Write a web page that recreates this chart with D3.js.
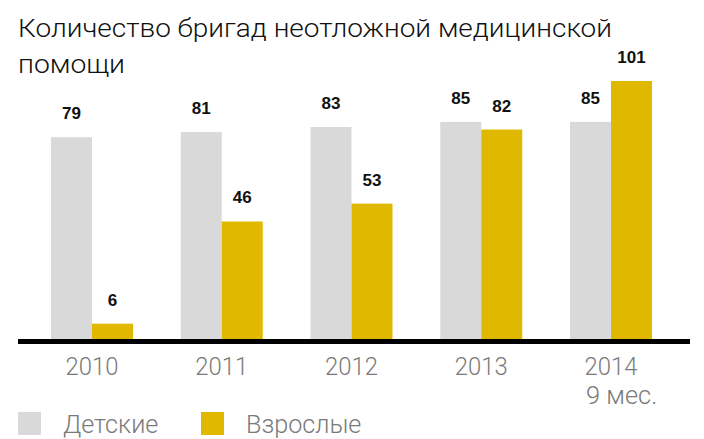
<!DOCTYPE html>
<html><head><meta charset="utf-8">
<script src="https://cdn.jsdelivr.net/npm/d3@7"></script>
<style>body{margin:0;background:#fff}svg{display:block}</style>
</head><body>
<script>
const categories = ["2010","2011","2012","2013","2014"];
const subLabels = ["","","","","9 мес."];
const seriesNames = ["Детские","Взрослые"];
const children = [79,81,83,85,85];
const adults = [6,46,53,82,101];
const colors = ["#d9d9d9","#e1b800"];

const W=704,H=439;
const FONT="Roboto, sans-serif";
const svg=d3.select("body").append("svg").attr("width",W).attr("height",H);
const y0=339;
const step=129.75, bw=82;
const pin=(step-bw)/step;
const x=d3.scaleBand().domain(categories).range([51,51+step*(categories.length-pin)]).paddingInner(pin).paddingOuter(0);
const xs=d3.scaleBand().domain([0,1]).range([0,x.bandwidth()]);
const y=d3.scaleLinear().domain([0,101]).range([y0,81]);

function condense(sel,f){sel.each(function(){const L=this.getComputedTextLength();d3.select(this).attr("textLength",L*f).attr("lengthAdjust","spacingAndGlyphs");});}

svg.append("text").attr("x",18).attr("y",37).attr("font-family",FONT).attr("font-weight",300).attr("font-size",26.5).attr("fill","#111")
  .text("Количество бригад неотложной медицинской").attr("textLength",594).attr("lengthAdjust","spacingAndGlyphs");
svg.append("text").attr("x",18).attr("y",73).attr("font-family",FONT).attr("font-weight",300).attr("font-size",26.5).attr("fill","#111")
  .text("помощи").attr("textLength",107).attr("lengthAdjust","spacingAndGlyphs");

const data=categories.map((c,i)=>({c,vals:[children[i],adults[i]]}));
const g=svg.selectAll("g.grp").data(data).join("g").attr("transform",d=>`translate(${x(d.c)},0)`);
g.selectAll("rect").data(d=>d.vals.map((v,k)=>({v,k}))).join("rect")
  .attr("x",d=>xs(d.k)).attr("width",xs.bandwidth()).attr("y",d=>y(d.v)).attr("height",d=>y0-y(d.v)).attr("fill",d=>colors[d.k]);
g.selectAll("text.val").data(d=>d.vals.map((v,k)=>({v,k}))).join("text").attr("class","val")
  .attr("x",d=>xs(d.k)+xs.bandwidth()/2).attr("y",d=>y(d.v)-18).attr("text-anchor","middle")
  .attr("font-family","'Liberation Sans', Arial, sans-serif").attr("font-weight","bold").attr("font-size",17).attr("fill","#111").text(d=>d.v);

svg.append("rect").attr("x",18).attr("y",y0).attr("width",672).attr("height",5).attr("fill","#000");

const xAxis=d3.axisBottom(x).tickSize(0).tickPadding(0);
const ax=svg.append("g").attr("transform",`translate(0,375)`).call(xAxis);
ax.select(".domain").remove();
ax.selectAll("text").attr("font-family",FONT).attr("font-weight",300).attr("font-size",26.5).attr("fill","#7a7a7a").attr("dy",0).call(condense,0.9);
svg.selectAll("text.sub").data(categories.filter((c,i)=>subLabels[i])).join("text").attr("class","sub")
  .attr("x",c=>x(c)+x.bandwidth()/2-25).attr("y",404).attr("text-anchor","start")
  .attr("font-family",FONT).attr("font-weight",300).attr("font-size",26.5).attr("fill","#7a7a7a")
  .text(c=>subLabels[categories.indexOf(c)]).call(condense,0.96);

const lg=svg.selectAll("g.lg").data(seriesNames).join("g").attr("transform",(d,i)=>`translate(${[18,201][i]},412)`);
lg.append("rect").attr("width",23).attr("height",23).attr("fill",(d,i)=>colors[i]);
lg.append("text").attr("x",45).attr("y",21).attr("font-family",FONT).attr("font-weight",300).attr("font-size",26.5).attr("fill","#7a7a7a").text(d=>d).call(condense,0.95);
</script>
</body></html>
